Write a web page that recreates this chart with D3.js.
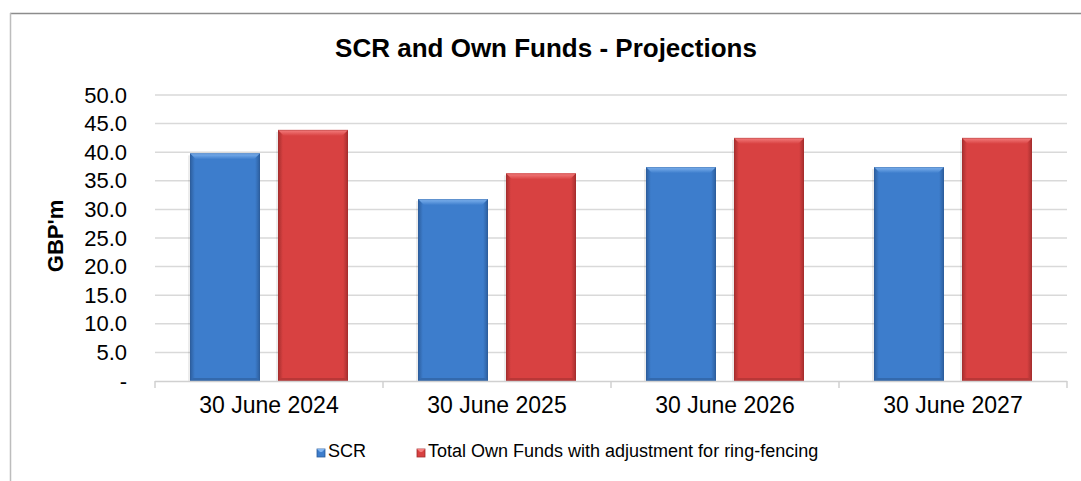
<!DOCTYPE html>
<html>
<head>
<meta charset="utf-8">
<script src="https://cdn.jsdelivr.net/npm/d3@7"></script>
<style>
  html, body { margin: 0; padding: 0; background: #fff; }
  #chart { width: 1081px; height: 481px; }
  text { font-family: "Liberation Sans", Arial, sans-serif; fill: #000; }
</style>
</head>
<body>
<div id="chart"></div>
<script>
const categories = ["30 June 2024", "30 June 2025", "30 June 2026", "30 June 2027"];
const seriesNames = ["SCR", "Total Own Funds with adjustment for ring-fencing"];
const scrValues = [39.8, 31.8, 37.4, 37.4];
const ownFundsValues = [43.9, 36.3, 42.5, 42.5];
const yTicks = [0, 5, 10, 15, 20, 25, 30, 35, 40, 45, 50];

const W = 1081, H = 481;
const plot = { left: 155, right: 1067, top: 95, bottom: 381 };

const svg = d3.select("#chart").append("svg")
  .attr("width", W).attr("height", H);

const defs = svg.append("defs");
const palette = {
  SCR: { base: "#3d7dcc", light: "#82b5f0", dark: "#2c5d9c", bottom: "#3369ad" },
  OF:  { base: "#d84141", light: "#f58080", dark: "#a42e2e", bottom: "#b93737" }
};
Object.entries(palette).forEach(([k, c]) => {
  const g = defs.append("linearGradient").attr("id", "g" + k)
    .attr("x1", "0").attr("x2", "1").attr("y1", "0").attr("y2", "0");
  g.append("stop").attr("offset", "0%").attr("stop-color", c.dark);
  g.append("stop").attr("offset", "7%").attr("stop-color", c.base);
  g.append("stop").attr("offset", "93%").attr("stop-color", c.base);
  g.append("stop").attr("offset", "100%").attr("stop-color", c.dark);
  const t = defs.append("linearGradient").attr("id", "t" + k)
    .attr("x1", "0").attr("x2", "0").attr("y1", "0").attr("y2", "1");
  t.append("stop").attr("offset", "0%").attr("stop-color", c.light);
  t.append("stop").attr("offset", "100%").attr("stop-color", c.base);
});

// chart frame (cropped at right/bottom)
svg.append("line").attr("x1", 10).attr("x2", W).attr("y1", 13.5).attr("y2", 13.5)
  .attr("stroke", "#8c8c8c").attr("stroke-width", 1.5);
svg.append("line").attr("x1", 10.5).attr("x2", 10.5).attr("y1", 13).attr("y2", H)
  .attr("stroke", "#bdbdbd").attr("stroke-width", 1.5);

// title
svg.append("text")
  .attr("x", 546).attr("y", 57)
  .attr("text-anchor", "middle")
  .style("font-size", "26px").style("font-weight", "bold")
  .text("SCR and Own Funds - Projections");

const data = categories.map((c, i) => ({ cat: c, SCR: scrValues[i], OF: ownFundsValues[i] }));
const keys = ["SCR", "OF"];

const x0 = d3.scaleBand().domain(categories).range([plot.left, plot.right]).padding(0);
const x1 = d3.scaleBand().domain(keys).range([0, x0.bandwidth()])
  .paddingInner(18 / 88).paddingOuter(35 / 88);
const y = d3.scaleLinear().domain([0, 50]).range([plot.bottom, plot.top]);

// gridlines
svg.append("g").selectAll("line")
  .data(yTicks.filter(d => d > 0))
  .join("line")
  .attr("x1", plot.left).attr("x2", plot.right)
  .attr("y1", d => y(d)).attr("y2", d => y(d))
  .attr("stroke", "#d9d9d9").attr("stroke-width", 1.5);

// y axis labels
const yAxis = svg.append("g")
  .attr("transform", `translate(${plot.left - 28},0)`)
  .call(d3.axisLeft(y).tickValues(yTicks).tickSize(0)
    .tickFormat(d => d === 0 ? "-" : d3.format(".1f")(d)));
yAxis.select(".domain").remove();
yAxis.selectAll("text")
  .attr("x", 0)
  .style("font-family", "'Liberation Sans', Arial, sans-serif")
  .style("font-size", "22px").attr("fill", "#000");

// y title
svg.append("text")
  .attr("transform", `translate(63,236) rotate(-90)`)
  .attr("text-anchor", "middle")
  .style("font-size", "22px").style("font-weight", "bold")
  .text("GBP'm");

// bars
const bevel = 6;
const groups = svg.append("g").selectAll("g")
  .data(data).join("g")
  .attr("transform", d => `translate(${x0(d.cat)},0)`);

const bars = groups.selectAll("g.bar")
  .data(d => keys.map(k => ({ key: k, value: d[k] })))
  .join("g").attr("class", "bar");

bars.each(function (d) {
  const g = d3.select(this);
  const bx = x1(d.key), bw = x1.bandwidth();
  const by = y(d.value), bh = y(0) - y(d.value);
  const c = palette[d.key];
  // soft shadow
  g.append("rect").attr("x", bx - 2).attr("y", by + 2).attr("width", bw).attr("height", bh - 1)
    .attr("fill", "#000").attr("opacity", 0.07);
  g.append("rect").attr("x", bx).attr("y", by).attr("width", bw).attr("height", bh)
    .attr("fill", `url(#g${d.key})`);
  g.append("polygon")
    .attr("points", [[bx, by], [bx + bw, by], [bx + bw - bevel, by + bevel], [bx + bevel, by + bevel]].join(" "))
    .attr("fill", `url(#t${d.key})`);
  g.append("polygon")
    .attr("points", [[bx, by + bh], [bx + 3, by + bh - 3], [bx + bw - 3, by + bh - 3], [bx + bw, by + bh]].join(" "))
    .attr("fill", c.bottom);
  g.append("rect").attr("x", bx + 0.5).attr("y", by + 0.5).attr("width", bw - 1).attr("height", bh - 1)
    .attr("fill", "none").attr("stroke", c.dark).attr("stroke-opacity", 0.4);
});

// x axis
const xAxis = svg.append("g")
  .attr("transform", `translate(0,${plot.bottom})`)
  .call(d3.axisBottom(x0).tickSize(0));
xAxis.select(".domain").remove();
xAxis.selectAll("text")
  .attr("y", 16)
  .style("font-family", "'Liberation Sans', Arial, sans-serif")
  .style("font-size", "23px").attr("fill", "#000");

const tickXs = categories.map(c => x0(c)).concat([plot.right]);
svg.append("line").attr("x1", plot.left).attr("x2", plot.right)
  .attr("y1", plot.bottom + 0.5).attr("y2", plot.bottom + 0.5)
  .attr("stroke", "#d0d0d0").attr("stroke-width", 1.5);
svg.append("g").selectAll("line").data(tickXs).join("line")
  .attr("x1", d => d).attr("x2", d => d)
  .attr("y1", plot.bottom).attr("y2", plot.bottom + 7)
  .attr("stroke", "#d0d0d0").attr("stroke-width", 1.5);

// legend
const legendItems = [
  { key: "SCR", label: seriesNames[0], x: 317 },
  { key: "OF", label: seriesNames[1], x: 417 }
];
const lg = svg.append("g").selectAll("g").data(legendItems).join("g")
  .attr("transform", d => `translate(${d.x},449)`);
lg.append("rect").attr("width", 8).attr("height", 8)
  .attr("fill", d => `url(#g${d.key})`)
  .attr("stroke", d => palette[d.key].dark).attr("stroke-width", 0.8);
lg.append("polygon").attr("points", "0,0 8,0 5,3 3,3")
  .attr("fill", d => palette[d.key].light);
lg.append("text").attr("x", 11).attr("y", 8)
  .style("font-size", "18px")
  .text(d => d.label);
</script>
</body>
</html>
